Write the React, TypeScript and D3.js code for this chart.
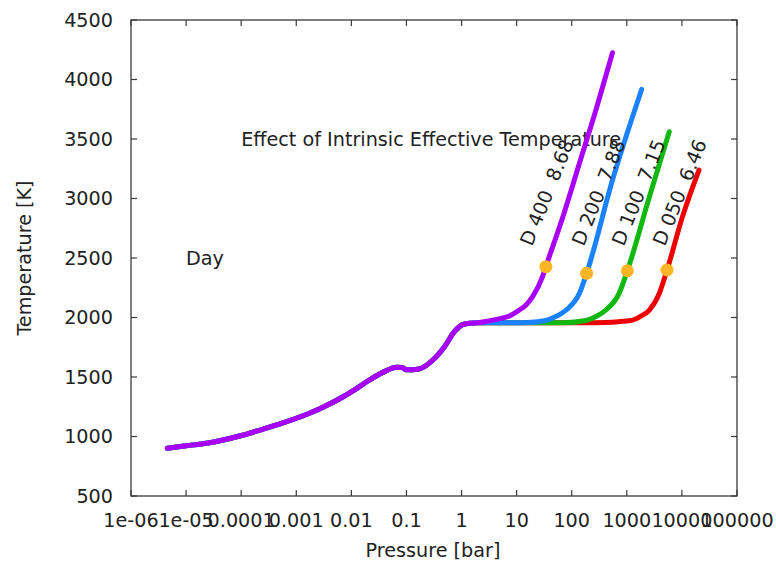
import React from "react";
import * as d3 from "d3";

// ---- data ----
const xTickValues = [1e-6, 1e-5, 1e-4, 1e-3, 1e-2, 1e-1, 1, 10, 100, 1000, 10000, 100000];
const xTickLabels = ["1e-06", "1e-05", "0.0001", "0.001", "0.01", "0.1", "1", "10", "100", "1000", "10000", "100000"];
const yTickValues = [500, 1000, 1500, 2000, 2500, 3000, 3500, 4000, 4500];

// shared lower profile (log10 P, T)
const baseLogP = [-5.34, -5.0, -4.63, -4.03, -3.7, -3.36, -2.76, -2.45, -2.15, -1.9, -1.67, -1.4, -1.18, -1.08, -1.0, -0.79, -0.52, -0.31, -0.13, 0.02, 0.15, 0.3];
const baseT = [901, 922, 943, 1004, 1048, 1097, 1195, 1260, 1334, 1405, 1475, 1545, 1582, 1580, 1560, 1565, 1643, 1755, 1881, 1940, 1952, 1955];

// tails per model
const d400LogP = [0.5, 0.7, 0.87, 1.05, 1.18, 1.29, 1.47, 1.53, 1.84, 2.14, 2.45, 2.74];
const d400T = [1972, 1990, 2013, 2063, 2110, 2175, 2343, 2427, 2847, 3296, 3760, 4225];
const d200LogP = [0.93, 1.2, 1.53, 1.72, 1.9, 2.14, 2.27, 2.74, 3.27];
const d200T = [1956, 1958, 1975, 2010, 2063, 2203, 2371, 3155, 3918];
const d100LogP = [1.2, 1.84, 2.26, 2.45, 2.62, 2.86, 3.01, 3.41, 3.77];
const d100T = [1955, 1956, 1975, 2010, 2063, 2203, 2393, 3015, 3561];
const d050LogP = [1.2, 2.44, 3.04, 3.25, 3.41, 3.59, 3.73, 4.01, 4.31];
const d050T = [1955, 1955, 1972, 2010, 2063, 2203, 2399, 2847, 3239];

const seriesNames = ["D 050  6.46", "D 100  7.15", "D 200  7.88", "D 400  8.68"];
const seriesColors = ["#ee0000", "#10b810", "#1a82ff", "#a800f8"];

// highlighted points
const dotP = [5370, 1023, 186, 34];
const dotT = [2399, 2393, 2371, 2427];

// curve label anchor points
const labelP = [4900, 880, 165, 19];
const labelT = [2592, 2592, 2592, 2592];

const annotations = [
  { text: "Effect of Intrinsic Effective Temperature", p: 1e-4, t: 3500 },
  { text: "Day", p: 1e-5, t: 2500 },
];

// ---- layout ----
const W = 776;
const H = 563;
const left = 131;
const right = 737;
const top = 20;
const bottom = 496;
const FONT = "'DejaVu Sans', sans-serif";
const FS = 19.2;
const AXIS = "#3a3a3a";

export default function App() {
  const x = d3.scaleLog().domain([1e-6, 1e5]).range([left, right]);
  const y = d3.scaleLinear().domain([500, 4500]).range([bottom, top]);

  const tails = [
    [d050LogP, d050T],
    [d100LogP, d100T],
    [d200LogP, d200T],
    [d400LogP, d400T],
  ];
  const series = tails.map(([lp, tt]) => {
    const pts: [number, number][] = [];
    baseLogP.forEach((l, i) => pts.push([Math.pow(10, l), baseT[i]]));
    lp.forEach((l, i) => {
      if (l > baseLogP[baseLogP.length - 1]) pts.push([Math.pow(10, l), tt[i]]);
    });
    return pts;
  });

  const line = d3
    .line<[number, number]>()
    .x((d) => x(d[0]))
    .y((d) => y(d[1]))
    .curve(d3.curveMonotoneX);

  const tick = 6;

  return (
    <svg
      width={W}
      height={H}
      style={{ position: "absolute", left: 0, top: 0, background: "#fff" }}
      fontFamily={FONT}
    >
      <rect x={0} y={0} width={W} height={H} fill="#fff" />
      {/* ticks */}
      {xTickValues.map((v, i) => (
        <g key={"xt" + i}>
          <line x1={x(v)} x2={x(v)} y1={bottom} y2={bottom - tick} stroke={AXIS} strokeWidth={1.2} />
          <line x1={x(v)} x2={x(v)} y1={top} y2={top + tick} stroke={AXIS} strokeWidth={1.2} />
          <text x={x(v)} y={527} fontSize={FS} textAnchor="middle" fill="#222">
            {xTickLabels[i]}
          </text>
        </g>
      ))}
      {yTickValues.map((v, i) => (
        <g key={"yt" + i}>
          <line x1={left} x2={left + tick} y1={y(v)} y2={y(v)} stroke={AXIS} strokeWidth={1.2} />
          <line x1={right} x2={right - tick} y1={y(v)} y2={y(v)} stroke={AXIS} strokeWidth={1.2} />
          <text x={113} y={y(v) + 6.8} fontSize={FS} textAnchor="end" fill="#222">
            {v}
          </text>
        </g>
      ))}
      {/* border */}
      <rect x={left} y={top} width={right - left} height={bottom - top} fill="none" stroke={AXIS} strokeWidth={1.3} />

      {/* axis titles */}
      <text x={433} y={557} fontSize={FS} textAnchor="middle" fill="#222">
        Pressure [bar]
      </text>
      <text
        transform={`translate(31,${(top + bottom) / 2}) rotate(-90)`}
        fontSize={FS}
        textAnchor="middle"
        fill="#222"
      >
        Temperature [K]
      </text>

      {/* annotations */}
      {annotations.map((a, i) => (
        <text key={"an" + i} x={x(a.p)} y={y(a.t) + 6.8} fontSize={FS} fill="#222">
          {a.text}
        </text>
      ))}

      {/* curves */}
      {series.map((s, i) => (
        <path
          key={"s" + i}
          d={line(s) || ""}
          fill="none"
          stroke={seriesColors[i]}
          strokeWidth={5}
          strokeLinejoin="round"
          strokeLinecap="round"
        />
      ))}

      {/* dots */}
      {dotP.map((p, i) => (
        <circle key={"d" + i} cx={x(p)} cy={y(dotT[i])} r={6.5} fill="#fbb526" />
      ))}

      {/* curve labels */}
      {seriesNames.map((n, i) => (
        <text
          key={"l" + i}
          transform={`translate(${x(labelP[i])},${y(labelT[i])}) rotate(-68)`}
          fontSize={FS}
          fill="#222"
          style={{ whiteSpace: "pre" }}
        >
          {n}
        </text>
      ))}
    </svg>
  );
}
